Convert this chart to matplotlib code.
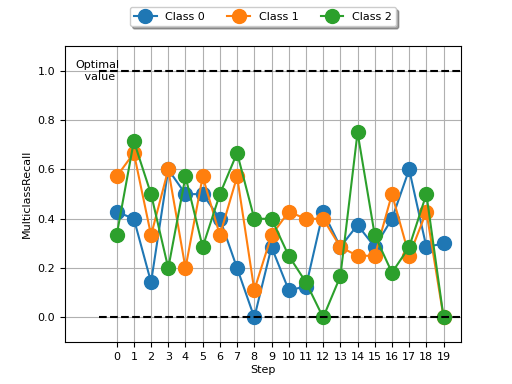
import matplotlib
matplotlib.use("Agg")
import matplotlib.pyplot as plt

steps = list(range(20))
class0 = [0.4286, 0.4, 0.1429, 0.6, 0.5, 0.5, 0.4, 0.2, 0.0, 0.2857,
          0.1111, 0.125, 0.4286, 0.2857, 0.375, 0.2857, 0.4, 0.6, 0.2857, 0.3]
class1 = [0.5714, 0.6667, 0.3333, 0.6, 0.2, 0.5714, 0.3333, 0.5714, 0.1111, 0.3333,
          0.4286, 0.4, 0.4, 0.2857, 0.25, 0.25, 0.5, 0.25, 0.4286, 0.0]
class2 = [0.3333, 0.7143, 0.5, 0.2, 0.5714, 0.2857, 0.5, 0.6667, 0.4, 0.4,
          0.25, 0.1429, 0.0, 0.1667, 0.75, 0.3333, 0.1818, 0.2857, 0.5, 0.0]
series = {"Class 0": class0, "Class 1": class1, "Class 2": class2}

fig = plt.figure(figsize=(5.12, 3.84), dpi=100)
ax = fig.add_axes([0.127, 0.109, 0.773, 0.771])

for name, vals in series.items():
    ax.plot(steps, vals, marker="o", markersize=10, label=name)

ax.hlines([0.0, 1.0], -1, 20, colors="black", linestyles="--", linewidth=1.5)
ax.text(-1.1, 1.0, "Optimal\n value", ha="center", va="center", fontsize=8)

ax.set_xlim(-3, 20)
ax.set_ylim(-0.1, 1.1)
ax.set_xticks(steps)
ax.set_xticklabels([str(s) for s in steps], fontsize=8)
ax.tick_params(axis="y", labelsize=8)
ax.set_xlabel("Step", fontsize=8, labelpad=2)
ax.set_ylabel("MulticlassRecall", fontsize=8)
ax.grid(True)
ax.legend(loc="upper center", bbox_to_anchor=(0.5, 1.15), ncol=3, shadow=True,
          fancybox=True, fontsize=8)

fig.savefig("out.png", dpi=100)
